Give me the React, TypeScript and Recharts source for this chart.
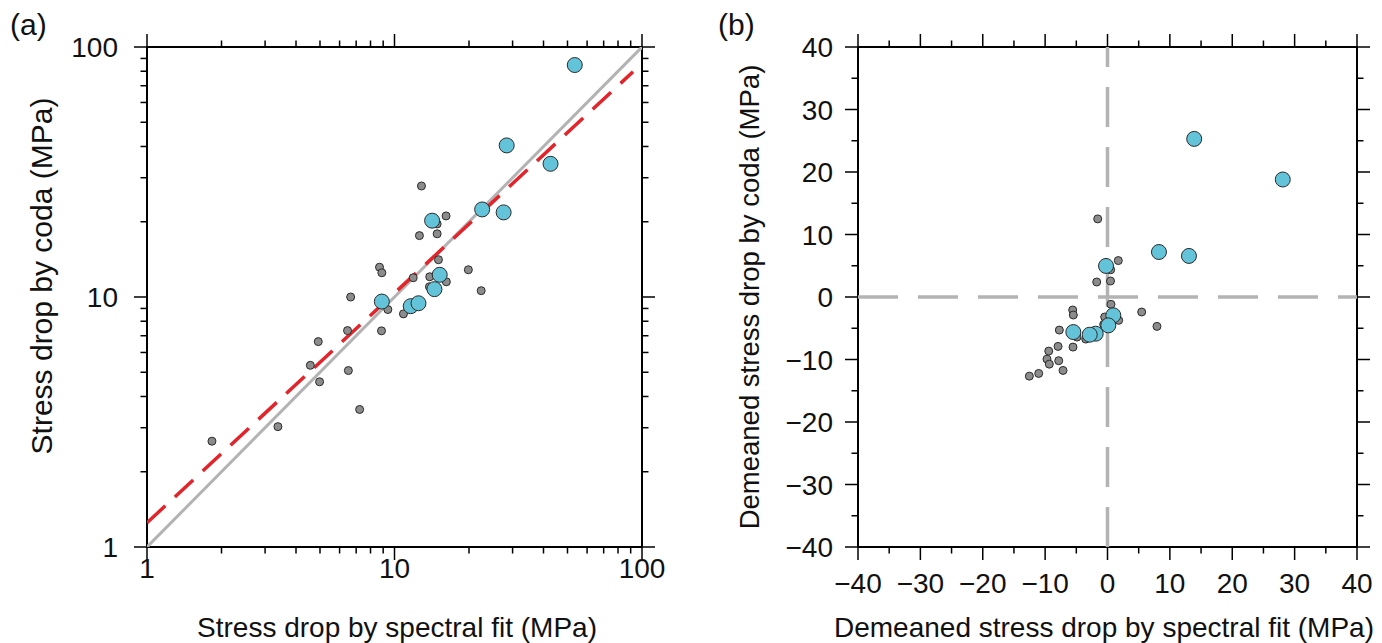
import React from "react";
import { ScatterChart, Scatter, XAxis, YAxis } from "recharts";

// panel (a): stress drop, spectral fit (x) vs coda (y), MPa
const smallA = [
  { x: 8.7, y: 13.16 }, { x: 8.89, y: 12.5 }, { x: 6.65, y: 10.0 }, { x: 12.85, y: 27.8 },
  { x: 16.16, y: 21.1 }, { x: 14.87, y: 19.6 }, { x: 12.61, y: 17.6 }, { x: 14.87, y: 17.9 },
  { x: 15.05, y: 14.1 }, { x: 19.88, y: 12.85 }, { x: 11.9, y: 11.94 }, { x: 13.88, y: 12.05 },
  { x: 16.2, y: 11.5 }, { x: 13.84, y: 10.99 }, { x: 22.4, y: 10.6 }, { x: 9.4, y: 8.91 },
  { x: 6.46, y: 7.34 }, { x: 8.86, y: 7.32 }, { x: 4.92, y: 6.63 }, { x: 4.57, y: 5.33 },
  { x: 4.98, y: 4.58 }, { x: 6.51, y: 5.08 }, { x: 7.23, y: 3.55 }, { x: 3.38, y: 3.03 },
  { x: 1.83, y: 2.65 }, { x: 10.87, y: 8.56 },
];
const largeA = [
  { x: 53.5, y: 84.7 }, { x: 28.4, y: 40.4 }, { x: 42.7, y: 34.1 }, { x: 22.6, y: 22.4 },
  { x: 27.6, y: 21.8 }, { x: 14.19, y: 20.2 }, { x: 15.23, y: 12.27 }, { x: 14.5, y: 10.75 },
  { x: 8.89, y: 9.59 }, { x: 11.63, y: 9.19 }, { x: 12.5, y: 9.44 },
];
const oneToOne = [{ x: 1, y: 1 }, { x: 100, y: 100 }];
const fitLine = [{ x: 1, y: 1.25 }, { x: 92, y: 79.6 }];

// panel (b): demeaned values, MPa
const smallB = [
  { x: -1.57, y: 12.5 }, { x: 1.73, y: 5.83 }, { x: 0.51, y: 4.36 }, { x: 0.48, y: 2.56 },
  { x: -1.73, y: 2.4 }, { x: 0.56, y: -1.17 }, { x: -0.45, y: -3.2 }, { x: 1.79, y: -3.73 },
  { x: -0.61, y: -4.38 }, { x: 5.48, y: -2.4 }, { x: 7.93, y: -4.7 }, { x: -5.58, y: -2.08 },
  { x: -5.48, y: -2.88 }, { x: -7.72, y: -5.29 }, { x: -4.89, y: -6.41 }, { x: -7.93, y: -7.9 },
  { x: -5.53, y: -8.01 }, { x: -3.49, y: -6.73 }, { x: -9.42, y: -8.65 }, { x: -9.7, y: -9.94 },
  { x: -7.82, y: -10.19 }, { x: -9.33, y: -10.74 }, { x: -7.13, y: -11.75 }, { x: -11.03, y: -12.23 },
  { x: -12.53, y: -12.66 },
];
const largeB = [
  { x: 13.9, y: 25.3 }, { x: 28.1, y: 18.8 }, { x: 8.25, y: 7.2 }, { x: 13.06, y: 6.57 },
  { x: -0.24, y: 4.97 }, { x: 0.93, y: -2.93 }, { x: 0.13, y: -4.54 }, { x: -1.89, y: -5.87 },
  { x: -2.85, y: -6.03 }, { x: -5.48, y: -5.61 },
];
const zeroV = [{ x: 0, y: -40 }, { x: 0, y: 40 }];
const zeroH = [{ x: -40, y: 0 }, { x: 40, y: 0 }];

const logTicks = [1, 2, 3, 4, 5, 6, 7, 8, 9, 10, 20, 30, 40, 50, 60, 70, 80, 90, 100];
const logMajors = [1, 10, 100];
const linTicks = [-40, -35, -30, -25, -20, -15, -10, -5, 0, 5, 10, 15, 20, 25, 30, 35, 40];
const linMajors = [-40, -30, -20, -10, 0, 10, 20, 30, 40];

const FONT = "'Liberation Sans', Arial, Helvetica, sans-serif";
const GRAY = "#8c8c8c";
const BLUE = "#63c3d8";
const EDGE = "#2b2b2b";
const TICK_FS = 28;

const fmt = (v: number) => (v < 0 ? "\u2212" + Math.abs(v) : String(v));

function makeTick(side: string, majors: number[], showLabel: boolean, gap: number) {
  return (props: any) => {
    const { x, y, payload } = props;
    const v = payload.value;
    const major = majors.includes(v);
    const len = major ? 13 : 6.5;
    let x2 = x, y2 = y;
    if (side === "bottom") y2 = y + len;
    if (side === "top") y2 = y - len;
    if (side === "left") x2 = x - len;
    if (side === "right") x2 = x + len;
    return (
      <g>
        <line x1={x} y1={y} x2={x2} y2={y2} stroke="#000" strokeWidth={1.5} />
        {showLabel && major && side === "bottom" && (
          <text x={x} y={y + gap} textAnchor="middle" fontSize={TICK_FS} fontFamily={FONT} fill="#111">
            {fmt(v)}
          </text>
        )}
        {showLabel && major && side === "left" && (
          <text x={x - gap} y={y} dy="0.36em" textAnchor="end" fontSize={TICK_FS} fontFamily={FONT} fill="#111">
            {fmt(v)}
          </text>
        )}
      </g>
    );
  };
}

const dot = (r: number, fill: string) => (p: any) => (
  <circle cx={p.cx} cy={p.cy} r={r} fill={fill} stroke={EDGE} strokeWidth={1} />
);
const none = () => <g />;

const axisLine = { stroke: "#000", strokeWidth: 2 };

function PanelA() {
  const common = { type: "number" as const, scale: "log" as const, domain: [1, 100], allowDataOverflow: true, ticks: logTicks, interval: 0, tickSize: 0, tickMargin: 0, tickLine: false, axisLine };
  return (
    <ScatterChart width={700} height={643} margin={{ top: 0, right: 0, bottom: 0, left: 0 }}>
      <XAxis xAxisId="b" dataKey="x" orientation="bottom" height={96} {...common} tick={makeTick("bottom", logMajors, true, 31)} />
      <XAxis xAxisId="t" dataKey="x" orientation="top" height={47} {...common} tick={makeTick("top", logMajors, false, 0)} />
      <YAxis yAxisId="l" dataKey="y" orientation="left" width={147} {...common} tick={makeTick("left", logMajors, true, 29)} />
      <YAxis yAxisId="r" dataKey="y" orientation="right" width={58} {...common} tick={makeTick("right", logMajors, false, 0)} />
      <Scatter xAxisId="t" yAxisId="r" data={oneToOne} shape={none} line={{ stroke: "#b3b3b3", strokeWidth: 3 }} isAnimationActive={false} />
      <Scatter xAxisId="t" yAxisId="r" data={fitLine} shape={none} line={{ stroke: "#e3242b", strokeWidth: 3.5, strokeDasharray: "25 13" }} isAnimationActive={false} />
      <Scatter xAxisId="b" yAxisId="l" data={smallA} shape={dot(4, GRAY)} isAnimationActive={false} />
      <Scatter xAxisId="b" yAxisId="l" data={largeA} shape={dot(7.5, BLUE)} isAnimationActive={false} />
    </ScatterChart>
  );
}

function PanelB() {
  const common = { type: "number" as const, domain: [-40, 40], allowDataOverflow: true, ticks: linTicks, interval: 0, tickSize: 0, tickMargin: 0, tickLine: false, axisLine };
  return (
    <ScatterChart width={682} height={643} margin={{ top: 0, right: 0, bottom: 0, left: 0 }}>
      <XAxis xAxisId="b" dataKey="x" orientation="bottom" height={96} {...common} tick={makeTick("bottom", linMajors, true, 46)} />
      <XAxis xAxisId="t" dataKey="x" orientation="top" height={47} {...common} tick={makeTick("top", linMajors, false, 0)} />
      <YAxis yAxisId="l" dataKey="y" orientation="left" width={158} {...common} tick={makeTick("left", linMajors, true, 25)} />
      <YAxis yAxisId="r" dataKey="y" orientation="right" width={25} {...common} tick={makeTick("right", linMajors, false, 0)} />
      <Scatter xAxisId="t" yAxisId="r" data={zeroV} shape={none} line={{ stroke: "#b3b3b3", strokeWidth: 3.5, strokeDasharray: "40 20" }} isAnimationActive={false} />
      <Scatter xAxisId="t" yAxisId="r" data={zeroH} shape={none} line={{ stroke: "#b3b3b3", strokeWidth: 3.5, strokeDasharray: "40 20" }} isAnimationActive={false} />
      <Scatter xAxisId="b" yAxisId="l" data={smallB} shape={dot(4, GRAY)} isAnimationActive={false} />
      <Scatter xAxisId="b" yAxisId="l" data={largeB} shape={dot(7.5, BLUE)} isAnimationActive={false} />
    </ScatterChart>
  );
}

export default function App() {
  return (
    <div style={{ position: "absolute", left: 0, top: 0, width: 1382, height: 643, background: "#fff", fontFamily: FONT }}>
      <div style={{ position: "absolute", left: 0, top: 0 }}>
        <PanelA />
      </div>
      <div style={{ position: "absolute", left: 700, top: 0 }}>
        <PanelB />
      </div>
      <svg width={1382} height={643} style={{ position: "absolute", left: 0, top: 0, pointerEvents: "none" }}>
        <g fontFamily={FONT} fill="#111">
          <text x={10} y={35} fontSize={30}>(a)</text>
          <text x={718} y={35} fontSize={30}>(b)</text>
          <text x={397} y={637} fontSize={28} textAnchor="middle">Stress drop by spectral fit (MPa)</text>
          <text x={1104} y={637} fontSize={28} textAnchor="middle">Demeaned stress drop by spectral fit (MPa)</text>
          <text transform="translate(52,276) rotate(-90)" fontSize={30} textAnchor="middle">Stress drop by coda (MPa)</text>
          <text transform="translate(759,297) rotate(-90)" fontSize={27.5} textAnchor="middle">Demeaned stress drop by coda (MPa)</text>
        </g>
      </svg>
    </div>
  );
}
